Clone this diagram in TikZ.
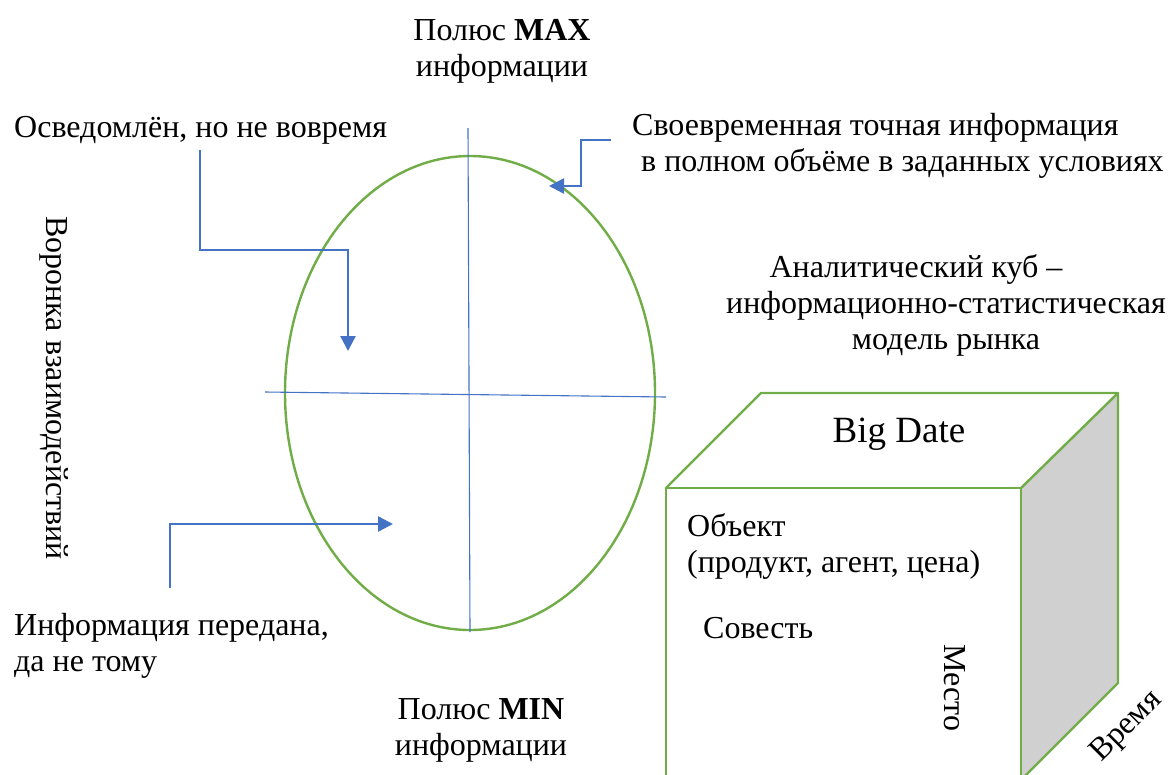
\documentclass[tikz,border=0pt]{standalone}
\usepackage{fontspec}
\setmainfont{Liberation Serif}
\usetikzlibrary{arrows.meta,calc}
\definecolor{lblue}{RGB}{68,114,196}
\definecolor{lgreen}{RGB}{112,173,71}
\definecolor{sidegray}{RGB}{208,208,208}
\tikzset{
  txt/.style={inner sep=0pt, font=\fontsize{32}{36}\selectfont, align=left},
  ctxt/.style={inner sep=0pt, font=\fontsize{32}{36}\selectfont, align=center},
  callout/.style={draw=lblue, line width=2.4pt, -{Triangle[length=15pt,width=15pt]}},
  axis/.style={draw=lblue, line width=1.1pt},
  cubeedge/.style={draw=lgreen, line width=2.4pt, line join=round},
}
\begin{document}
\begin{tikzpicture}[x=1pt,y=-1pt]
\useasboundingbox (0,0) rectangle (1169,774);
% ellipse
\draw[lgreen, line width=2.4pt] (470,393) ellipse [x radius=185, y radius=237];
\coordinate (vt) at (468,128); \coordinate (vb) at (470,632);
\coordinate (hl) at (265,392); \coordinate (hr) at (666,397);
\draw[axis] (vt) -- (vb);
\draw[axis] (hl) -- (hr);
% texts (base anchor = baseline of the last line)
\node[ctxt, anchor=base] (max) at (502,76) {Полюс \textbf{MAX}\\информации};
\node[ctxt, anchor=base] (min) at (481,755) {Полюс \textbf{MIN}\\информации};
\node[txt, anchor=base west] (late) at (14,137) {Осведомлён, но не вовремя};
\node[txt, anchor=base west] (good) at (632,171) {Своевременная точная информация\\\hspace*{9pt}в полном объёме в заданных условиях};
\node[ctxt, anchor=base] (cubet) at (946,349) {Аналитический куб –\hspace*{60pt}\\информационно-статистическая\\модель рынка};
\node[txt, anchor=base west] (wrong) at (14,671) {Информация передана,\\да не тому};
\node[txt, rotate=-90] (funnel) at (54,388) {Воронка взаимодействий};
% callouts
\coordinate (a1s) at (200,150); \coordinate (a1e) at (348,351);
\draw[callout] (a1s) |- (348,250) -- (a1e);
\coordinate (a2s) at (170,588); \coordinate (a2e) at (393,524);
\draw[callout] (a2s) |- (a2e);
\coordinate (a3s) at (611,140); \coordinate (a3e) at (549,186);
\draw[callout] (a3s) -- (581,140) |- (a3e);
% cube
\coordinate (ftl) at (666,488); \coordinate (ftr) at (1021,488);
\coordinate (fbl) at (666,780); \coordinate (fbr) at (1021,780);
\coordinate (btl) at (761,393); \coordinate (btr) at (1118,393);
\coordinate (bbr) at (1118,683);
\coordinate (bend) at ($(bbr)!1.2!(1021,780)$);
\fill[sidegray] (ftr) -- (btr) -- (bbr) -- (bend) -- (fbr) -- cycle;
\draw[cubeedge] (fbl) -- (ftl) -- (ftr) -- (fbr);
\draw[cubeedge] (ftl) -- (btl) -- (btr) -- (ftr);
\draw[cubeedge] (btr) -- (bbr) -- (bend);
\node[inner sep=0pt, font=\fontsize{37}{42}\selectfont, anchor=base] (big) at (899,442) {Big Date};
\node[txt, anchor=base west] (obj) at (687,572) {Объект\\(продукт, агент, цена)};
\node[txt, anchor=base west] (con) at (703,638) {Совесть};
\node[txt, rotate=-90] (place) at (955,688) {Место};
\node[txt, rotate=45] (time) at (1127,727) {Время};
\end{tikzpicture}
\end{document}
